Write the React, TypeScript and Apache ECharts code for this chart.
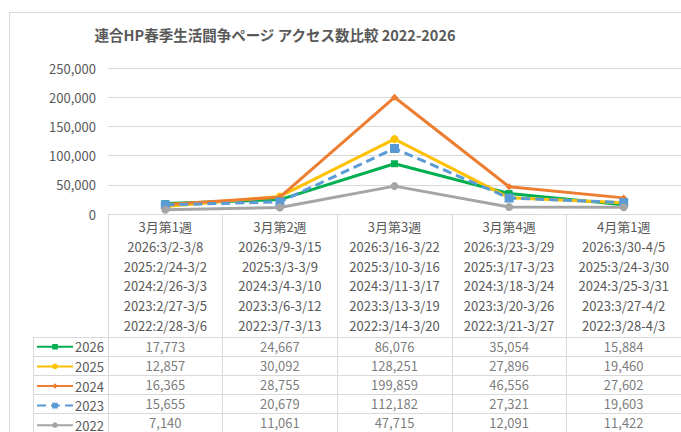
import React, { useEffect, useRef } from "react";
import * as echarts from "echarts";

const title = "連合HP春季生活闘争ページ アクセス数比較 2022-2026";
const weeks = ["3月第1週", "3月第2週", "3月第3週", "3月第4週", "4月第1週"];
const years = ["2026", "2025", "2024", "2023", "2022"];
const dates2026 = ["3/2-3/8", "3/9-3/15", "3/16-3/22", "3/23-3/29", "3/30-4/5"];
const dates2025 = ["2/24-3/2", "3/3-3/9", "3/10-3/16", "3/17-3/23", "3/24-3/30"];
const dates2024 = ["2/26-3/3", "3/4-3/10", "3/11-3/17", "3/18-3/24", "3/25-3/31"];
const dates2023 = ["2/27-3/5", "3/6-3/12", "3/13-3/19", "3/20-3/26", "3/27-4/2"];
const dates2022 = ["2/28-3/6", "3/7-3/13", "3/14-3/20", "3/21-3/27", "3/28-4/3"];
const v2026 = [17773, 24667, 86076, 35054, 15884];
const v2025 = [12857, 30092, 128251, 27896, 19460];
const v2024 = [16365, 28755, 199859, 46556, 27602];
const v2023 = [15655, 20679, 112182, 27321, 19603];
const v2022 = [7140, 11061, 47715, 12091, 11422];
const yTicks = [0, 50000, 100000, 150000, 200000, 250000];

const FONT = "'Noto Sans CJK JP', 'Noto Sans', sans-serif";
const GRAY = "#595959";
const LINE = "#D9D9D9";

export default function App() {
  const ref = useRef<HTMLDivElement>(null);
  useEffect(() => {
    if (!ref.current) return;
    const chart = echarts.init(ref.current, null, { renderer: "svg" });
    const dateSets = [dates2026, dates2025, dates2024, dates2023, dates2022];
    const values = [v2026, v2025, v2024, v2023, v2022];
    const fmt = (n: number) => n.toLocaleString("en-US");
    const labels = weeks.map((w, i) =>
      [w, ...years.map((y, k) => `${y}:${dateSets[k][i]}`)].join("\n")
    );
    const styles = [
      { color: "#00B050", symbol: "rect", size: 7, type: "solid" as any },
      { color: "#FFC000", symbol: "circle", size: 8, type: "solid" as any },
      { color: "#ED7D31", symbol: "diamond", size: 7, type: "solid" as any },
      { color: "#5B9BD5", symbol: "rect", size: 9, type: [9, 5] as any },
      { color: "#A5A5A5", symbol: "circle", size: 8, type: "solid" as any },
    ];
    const lineSeries = years.map((y, k) => ({
      name: y,
      type: "line",
      xAxisIndex: 0,
      yAxisIndex: 0,
      data: values[k],
      symbol: styles[k].symbol,
      symbolSize: styles[k].size,
      showAllSymbol: true,
      lineStyle: { color: styles[k].color, width: 3, type: styles[k].type },
      itemStyle: { color: styles[k].color },
      z: 2 + k,
    }));
    const tableData: any[] = [];
    values.forEach((arr, k) =>
      arr.forEach((v, i) => tableData.push([weeks[i], years[k], v]))
    );
    chart.setOption({
      animation: false,
      textStyle: { fontFamily: FONT },
      title: {
        text: title,
        left: 270,
        top: 22,
        textAlign: "center",
        textStyle: { fontFamily: FONT, fontSize: 14.5, fontWeight: "bold", color: GRAY },
      },
      graphic: [
        {
          type: "rect",
          shape: { x: 9.5, y: 12.5, width: 800, height: 600 },
          style: { fill: "none", stroke: LINE, lineWidth: 1 },
          silent: true,
        },
        {
          type: "line",
          shape: { x1: 33.5, y1: 337, x2: 33.5, y2: 440 },
          style: { stroke: LINE, lineWidth: 1 },
          silent: true,
        },
      ],
      legend: {
        data: years,
        orient: "vertical",
        left: 31,
        top: 332,
        padding: 5,
        height: 120,
        itemWidth: 36,
        itemHeight: 7,
        itemGap: 0,
        textStyle: {
          fontFamily: FONT,
          fontSize: 13,
          lineHeight: 19.6,
          color: GRAY,
          padding: [0, 0, 0, -3],
        },
        selectedMode: false,
      },
      grid: [
        { left: 108, right: 0, top: 68, bottom: 218 },
        { left: 108, right: 0, top: 337, height: 98 },
      ],
      xAxis: [
        {
          type: "category",
          gridIndex: 0,
          data: weeks,
          boundaryGap: true,
          axisLine: { show: true, lineStyle: { color: LINE, width: 1 } },
          axisTick: { show: true, interval: 0, length: 123, lineStyle: { color: LINE } },
          axisLabel: {
            interval: 0,
            margin: 3,
            formatter: (_: string, i: number) => labels[i],
            fontFamily: FONT,
            fontSize: 13,
            lineHeight: 19.7,
            color: GRAY,
          },
          splitLine: { show: false },
        },
        {
          type: "category",
          gridIndex: 1,
          data: weeks,
          boundaryGap: true,
          position: "top",
          axisLine: { show: true, lineStyle: { color: LINE, width: 1 } },
          axisTick: { show: false },
          axisLabel: { show: false },
          splitLine: { show: true, interval: 0, lineStyle: { color: LINE, width: 1 } },
        },
      ],
      yAxis: [
        {
          type: "value",
          gridIndex: 0,
          min: yTicks[0],
          max: yTicks[yTicks.length - 1],
          interval: 50000,
          axisLine: { show: false },
          axisTick: { show: false },
          axisLabel: {
            margin: 12,
            formatter: (v: number) => fmt(v),
            fontFamily: FONT,
            fontSize: 13,
            color: GRAY,
          },
          splitLine: { show: true, lineStyle: { color: LINE, width: 1 } },
        },
        {
          type: "category",
          gridIndex: 1,
          data: years,
          inverse: true,
          boundaryGap: true,
          axisLine: { show: true, lineStyle: { color: LINE, width: 1 } },
          axisTick: { show: true, interval: 0, length: 75, lineStyle: { color: LINE } },
          axisLabel: { show: false },
          splitLine: { show: true, interval: 0, lineStyle: { color: LINE, width: 1 } },
        },
      ],
      series: [
        ...lineSeries,
        {
          name: "table",
          type: "scatter",
          xAxisIndex: 1,
          yAxisIndex: 1,
          data: tableData,
          symbolSize: 1,
          itemStyle: { color: "rgba(0,0,0,0)" },
          label: {
            show: true,
            position: "inside",
            formatter: (p: any) => fmt(p.value[2]),
            fontFamily: FONT,
            fontSize: 13,
            color: GRAY,
          },
          silent: true,
        },
      ],
    });
    return () => chart.dispose();
  }, []);
  return (
    <div
      ref={ref}
      style={{ position: "fixed", left: 0, top: 0, width: 681, height: 432, background: "#fff" }}
    />
  );
}
